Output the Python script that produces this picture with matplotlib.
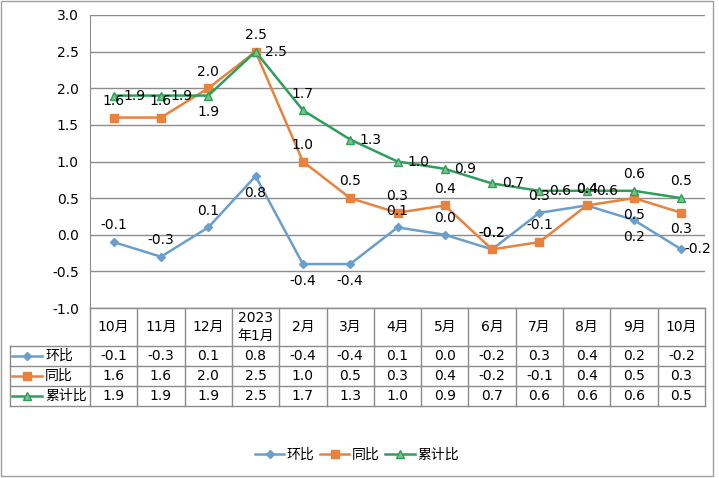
import numpy as np
import matplotlib
matplotlib.use('Agg')
import matplotlib.pyplot as plt
from matplotlib.lines import Line2D
from matplotlib.patches import Rectangle

plt.rcParams['font.family'] = ['DejaVu Sans', 'Noto Sans CJK SC']

months = ['10月', '11月', '12月', '2023\n年1月', '2月', '3月', '4月', '5月',
          '6月', '7月', '8月', '9月', '10月']
huanbi = [-0.1, -0.3, 0.1, 0.8, -0.4, -0.4, 0.1, 0.0, -0.2, 0.3, 0.4, 0.2, -0.2]
tongbi = [1.6, 1.6, 2.0, 2.5, 1.0, 0.5, 0.3, 0.4, -0.2, -0.1, 0.4, 0.5, 0.3]
leiji = [1.9, 1.9, 1.9, 2.5, 1.7, 1.3, 1.0, 0.9, 0.7, 0.6, 0.6, 0.6, 0.5]
series_names = ['环比', '同比', '累计比']

# label placement (style)
pos_h = ['a', 'a', 'a', 'b', 'b', 'b', 'a', 'a', 'a', 'a', 'a', 'b', 'R']
pos_t = ['a', 'a', 'a', 'a', 'a', 'a', 'a', 'a', 'a', 'a', 'a', 'b', 'b']
pos_l = ['r', 'r', 'b', 'r', 'a', 'r', 'r', 'r', 'r', 'r', 'r', 'a', 'a']

c_blue = '#6A9FCC'
c_orange = '#E8823C'
c_green = '#2E9E5B'
c_green_face = '#7CC08E'
grid_c = '#8C8C8C'

W, H = 719, 478
fig = plt.figure(figsize=(W / 100, H / 100), dpi=100)

ax = fig.add_axes([90 / W, 1 - 308 / H, 615 / W, 293 / H])
x = np.arange(len(months))
ax.set_xlim(-0.5, len(months) - 0.5)
ax.set_ylim(-1, 3)
yt = np.arange(-1, 3.01, 0.5)
ax.set_yticks(yt)
ax.set_yticklabels([f'{v:.1f}' for v in yt], fontsize=10)
ax.set_xticks([])
ax.tick_params(axis='y', length=0, pad=8)
for s in ['top', 'right', 'bottom']:
    ax.spines[s].set_visible(False)
ax.spines['left'].set_color(grid_c)
ax.grid(axis='y', color=grid_c, lw=1)
ax.set_axisbelow(True)

ax.plot(x, huanbi, color=c_blue, lw=1.8, marker='D', ms=4.5,
        mfc=c_blue, mec=c_blue, zorder=3)
ax.plot(x, tongbi, color=c_orange, lw=1.8, marker='s', ms=6,
        mfc=c_orange, mec=c_orange, zorder=4)
ax.plot(x, leiji, color=c_green, lw=1.8, marker='^', ms=6,
        mfc=c_green_face, mec=c_green, zorder=5)


def add_labels(vals, poss):
    for xi, v, p in zip(x, vals, poss):
        if p == 'a':
            ax.annotate(f'{v:.1f}', (xi, v), xytext=(0, 7), textcoords='offset points',
                        ha='center', va='bottom', fontsize=10, zorder=6)
        elif p == 'b':
            ax.annotate(f'{v:.1f}', (xi, v), xytext=(0, -7), textcoords='offset points',
                        ha='center', va='top', fontsize=10, zorder=6)
        elif p == 'R':
            ax.annotate(f'{v:.1f}', (xi, v), xytext=(2, 0), textcoords='offset points',
                        ha='left', va='center', fontsize=10, zorder=6)
        else:
            ax.annotate(f'{v:.1f}', (xi, v), xytext=(7, 0), textcoords='offset points',
                        ha='left', va='center', fontsize=10, zorder=6)


add_labels(huanbi, pos_h)
add_labels(tongbi, pos_t)
add_labels(leiji, pos_l)

# data table
tax = fig.add_axes([10 / W, 1 - 406 / H, 695 / W, 98 / H])
colw = 615 / 13
left = -0.5 - 80 / colw
right = len(months) - 0.5
tax.set_xlim(left, right)
tax.set_ylim(406, 308)
tax.axis('off')
kw = dict(color=grid_c, lw=1, clip_on=False)
tax.plot([-0.5, right], [308, 308], **kw)
for yy in [346, 366, 386, 406]:
    tax.plot([left, right], [yy, yy], **kw)
tax.plot([left, left], [346, 406], **kw)
for k in range(len(months) + 1):
    tax.plot([k - 0.5, k - 0.5], [308, 406], **kw)
for xi, m in zip(x, months):
    tax.text(xi, 327, m, ha='center', va='center', fontsize=10, linespacing=1.3)

rows = [huanbi, tongbi, leiji]
row_y = [356, 376, 396]
styles = [(c_blue, 'D', 4.5, c_blue), (c_orange, 's', 6, c_orange), (c_green, '^', 6, c_green_face)]
px = 1 / colw
for name, vals, yy, (c, mk, ms, mf) in zip(series_names, rows, row_y, styles):
    tax.plot([left + 2 * px, left + 32 * px], [yy, yy], color=c, lw=1.8, clip_on=False)
    tax.plot([left + 17 * px], [yy], marker=mk, ms=ms, color=c, mfc=mf, mec=c, clip_on=False)
    tax.text(left + 35 * px, yy, name, ha='left', va='center', fontsize=10)
    for xi, v in zip(x, vals):
        tax.text(xi, yy, f'{v:.1f}', ha='center', va='center', fontsize=10)

handles = [Line2D([], [], color=c, lw=1.8, marker=mk, ms=ms, mfc=mf, mec=c)
           for (c, mk, ms, mf) in styles]
fig.legend(handles, series_names, loc='center', bbox_to_anchor=(357 / W, 1 - 455 / H),
           ncol=3, frameon=False, handlelength=2.1, handletextpad=0.2,
           columnspacing=0.4, fontsize=10)

fig.add_artist(Rectangle((1 / W, 1 - 476 / H), 712 / W, 475 / H, fill=False,
                         ec='#A0A0A0', lw=1, transform=fig.transFigure))

fig.savefig('out.png', dpi=100)
